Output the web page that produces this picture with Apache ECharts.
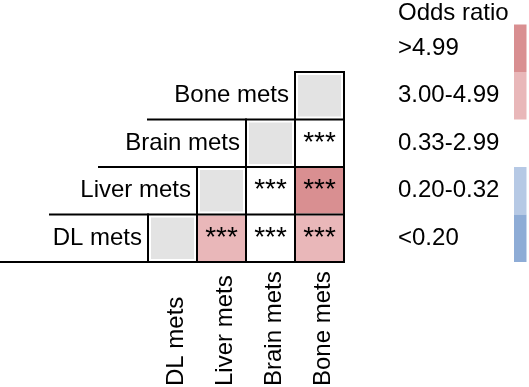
<!DOCTYPE html>
<html>
<head>
<meta charset="utf-8">
<script src="https://cdn.jsdelivr.net/npm/echarts@6/dist/echarts.min.js"></script>
<style>
  html, body { margin: 0; padding: 0; background: #fff; }
  #main { width: 529px; height: 387px; }
</style>
</head>
<body>
<div id="main"></div>
<script>
// categories (row index 0 = bottom, col index 0 = left)
var sites = ['DL mets', 'Liver mets', 'Brain mets', 'Bone mets'];

// odds ratio classes for the legend
var orLevels = ['>4.99', '3.00-4.99', '0.33-2.99', '0.20-0.32', '<0.20'];
var orColors = ['rgb(217,143,145)', 'rgb(233,183,185)', null, 'rgb(182,201,229)', 'rgb(142,172,214)'];

// cells of the triangle: row, column, odds ratio class (-1 = diagonal), significance
var cellRow = [0, 0, 0, 0, 1, 1, 1, 2, 2, 3];
var cellCol = [0, 1, 2, 3, 1, 2, 3, 2, 3, 3];
var cellLevel = [-1, 1, 2, 1, -1, 2, 0, -1, 2, -1];
var cellSig = ['', '***', '***', '***', '', '***', '***', '', '***', ''];

var fontFam = '"Liberation Sans", Arial, sans-serif';
var gridTop = 72, gridBottom = 125;
var rowH = (387 - gridTop - gridBottom) / 4;

var myChart = echarts.init(document.getElementById('main'));

var cellData = cellRow.map(function (r, i) {
  return [cellCol[i], r];
});

// 图例
var legendGraphic = [{
  type: 'text',
  x: 398, y: 13,
  style: { text: 'Odds ratio', font: '24px ' + fontFam, fill: '#000', verticalAlign: 'middle' }
}];
orLevels.forEach(function (lab, i) {
  var top = gridTop - rowH + i * rowH;
  legendGraphic.push({
    type: 'text',
    x: 398, y: top + rowH / 2,
    style: { text: lab, font: '24px ' + fontFam, fill: '#000', verticalAlign: 'middle' }
  });
  if (orColors[i]) {
    legendGraphic.push({
      type: 'rect',
      shape: { x: 514, y: top, width: 12.5, height: rowH },
      style: { fill: orColors[i] }
    });
  }
});

var option = {
  animation: false,
  backgroundColor: '#fff',
  grid: { left: 1, right: 185, top: gridTop, bottom: gridBottom },
  xAxis: { type: 'value', min: -3, max: 4, show: false },
  yAxis: { type: 'value', min: 0, max: 4, show: false },
  graphic: legendGraphic,
  series: [
    {
      // 格子
      type: 'custom',
      data: cellData,
      z: 1,
      renderItem: function (params, api) {
        var i = params.dataIndex;
        var c = api.value(0), r = api.value(1);
        var p0 = api.coord([c, r + 1]);
        var p1 = api.coord([c + 1, r]);
        var lvl = cellLevel[i];
        var children = [];
        if (lvl < 0) {
          children.push({
            type: 'rect',
            shape: { x: p0[0] + 3, y: p0[1] + 3, width: p1[0] - p0[0] - 6, height: p1[1] - p0[1] - 6 },
            style: { fill: '#e3e3e3' }
          });
        } else if (orColors[lvl]) {
          children.push({
            type: 'rect',
            shape: { x: p0[0] + 1, y: p0[1] + 1, width: p1[0] - p0[0] - 2, height: p1[1] - p0[1] - 2 },
            style: { fill: orColors[lvl] }
          });
        }
        if (cellSig[i]) {
          children.push({
            type: 'text',
            x: (p0[0] + p1[0]) / 2,
            y: (p0[1] + p1[1]) / 2,
            style: {
              text: cellSig[i], font: '28px ' + fontFam, fill: '#000',
              align: 'center', verticalAlign: 'middle'
            }
          });
        }
        return { type: 'group', children: children };
      }
    },
    {
      // 阶梯线 + 标签
      type: 'custom',
      data: sites.map(function (s, i) { return [i, i]; }),
      z: 2,
      renderItem: function (params, api) {
        var k = api.value(0);
        var ls = { stroke: '#000', lineWidth: 2, lineCap: 'square' };
        var a = api.coord([k - 3, k]);
        var b = api.coord([4, k]);
        var v0 = api.coord([k, 0]);
        var v1 = api.coord([k, k + 1]);
        var children = [
          { type: 'line', shape: { x1: a[0], y1: a[1], x2: b[0], y2: b[1] }, style: ls },
          { type: 'line', shape: { x1: v0[0], y1: v0[1], x2: v1[0], y2: v1[1] }, style: ls }
        ];
        if (k === sites.length - 1) {
          var t0 = api.coord([k, k + 1]), t1 = api.coord([k + 1, k + 1]), t2 = api.coord([k + 1, 0]);
          children.push({ type: 'line', shape: { x1: t0[0], y1: t0[1], x2: t1[0], y2: t1[1] }, style: ls });
          children.push({ type: 'line', shape: { x1: t1[0], y1: t1[1], x2: t2[0], y2: t2[1] }, style: ls });
        }
        // row label
        var rl = api.coord([k, k + 0.5]);
        children.push({
          type: 'text', x: rl[0] - 6, y: rl[1],
          style: { text: sites[k], font: '24px ' + fontFam, fill: '#000', align: 'right', verticalAlign: 'middle' }
        });
        // column label
        var cl = api.coord([k + 0.5, 0]);
        children.push({
          type: 'text', x: cl[0] + 4, y: 386, rotation: Math.PI / 2,
          style: { text: sites[k], font: '24px ' + fontFam, fill: '#000', align: 'left', verticalAlign: 'middle' }
        });
        return { type: 'group', children: children };
      }
    }
  ]
};

myChart.setOption(option);
</script>
</body>
</html>
